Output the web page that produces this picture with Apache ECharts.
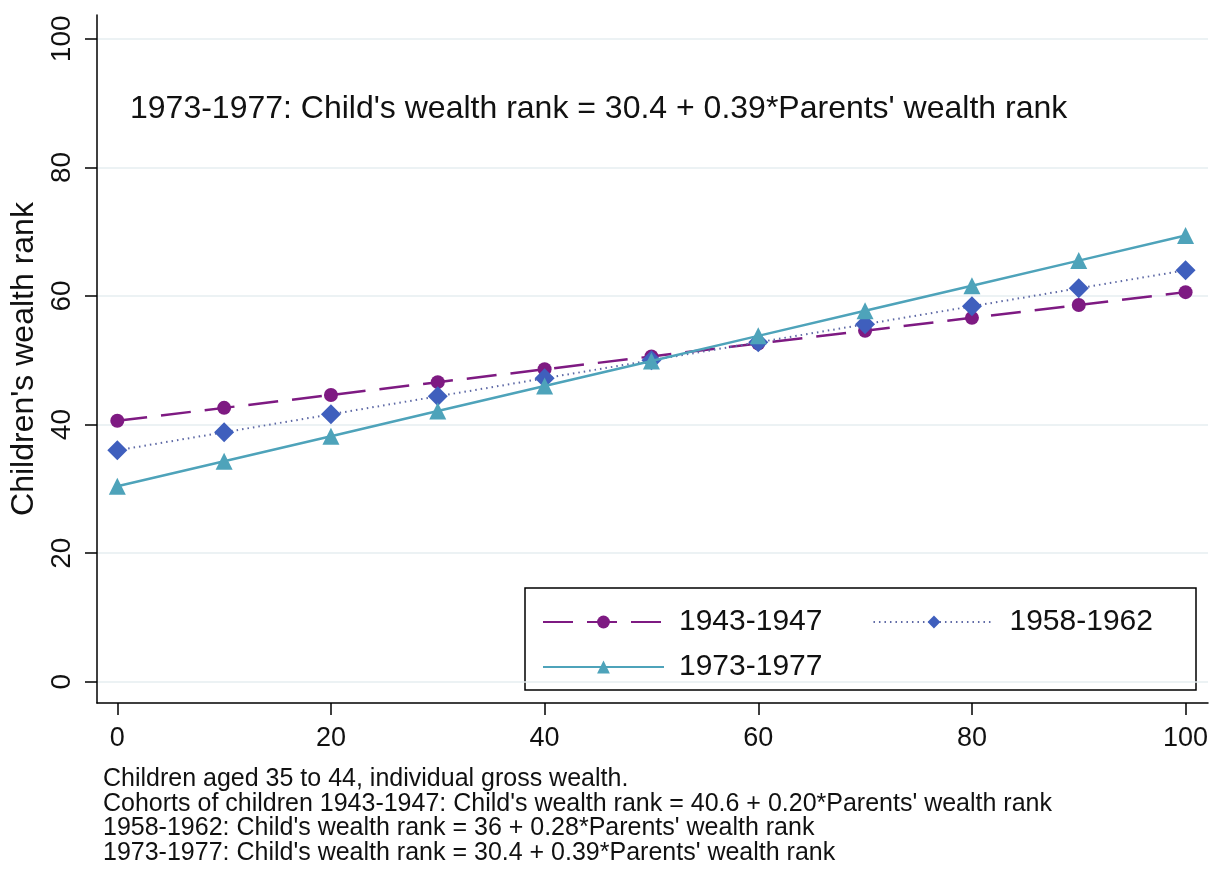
<!DOCTYPE html>
<html lang="en">
<head>
    <meta charset="UTF-8" />
    <title>Children's wealth rank by parents' wealth rank</title>
    <script src="https://cdn.jsdelivr.net/npm/echarts@6/dist/echarts.min.js"></script>
    <style>
        html, body { margin: 0; padding: 0; background: #fff; }
        #main { width: 1216px; height: 869px; }
    </style>
</head>
<body>
<div id="main"></div>
<script>
    // parents' wealth rank (x)
    var parentRank = [0, 10, 20, 30, 40, 50, 60, 70, 80, 90, 100];
    // children's wealth rank per cohort
    var cohort1943 = [40.6, 42.6, 44.6, 46.6, 48.6, 50.6, 52.6, 54.6, 56.6, 58.6, 60.6];
    var cohort1958 = [36.0, 38.8, 41.6, 44.4, 47.2, 50.0, 52.8, 55.6, 58.4, 61.2, 64.0];
    var cohort1973 = [30.4, 34.3, 38.2, 42.1, 46.0, 49.9, 53.8, 57.7, 61.6, 65.5, 69.4];
    var tickValues = [0, 20, 40, 60, 80, 100];
    var cohortNames = ['1943-1947', '1958-1962', '1973-1977'];

    var notes = [
        'Children aged 35 to 44, individual gross wealth.',
        "Cohorts of children 1943-1947: Child's wealth rank = 40.6 + 0.20*Parents' wealth rank",
        "1958-1962: Child's wealth rank = 36 + 0.28*Parents' wealth rank",
        "1973-1977: Child's wealth rank = 30.4 + 0.39*Parents' wealth rank"
    ];
    var annotation = "1973-1977: Child's wealth rank = 30.4 + 0.39*Parents' wealth rank";

    var font = '"Liberation Sans", Arial, sans-serif';

    function pairs(ys) {
        return parentRank.map(function (x, i) { return [x, ys[i]]; });
    }

    var chart = echarts.init(document.getElementById('main'));
    var option = {
        backgroundColor: '#ffffff',
        animation: false,
        textStyle: { fontFamily: font },
        title: {
            text: annotation,
            left: 125,
            top: 88,
            textStyle: { fontFamily: font, fontSize: 32, fontWeight: 'normal', color: '#111' }
        },
        grid: { left: 97, top: 15, right: 8, bottom: 166, outerBoundsMode: 'none' },
        xAxis: {
            type: 'value',
            min: -1.9,
            max: 102.1,
            axisLine: { show: true, onZero: false, lineStyle: { color: '#000', width: 1.5 } },
            axisTick: { show: true, length: 12, customValues: tickValues, lineStyle: { color: '#000', width: 1.5 } },
            axisLabel: { customValues: tickValues, margin: 22, fontSize: 27, color: '#111', fontFamily: font },
            splitLine: { show: false }
        },
        yAxis: {
            type: 'value',
            min: -3.3,
            max: 103.7,
            name: "Children's wealth rank",
            nameLocation: 'middle',
            nameRotate: 90,
            nameGap: 56,
            nameTextStyle: { fontSize: 32, color: '#111', fontFamily: font },
            axisLine: { show: true, onZero: false, lineStyle: { color: '#000', width: 1.5 } },
            axisTick: { show: true, length: 12, customValues: tickValues, lineStyle: { color: '#000', width: 1.5 } },
            axisLabel: { customValues: tickValues, rotate: 90, margin: 21, fontSize: 28, color: '#111', fontFamily: font },
            splitLine: { show: true, lineStyle: { color: '#e6eef1', width: 1.5 } }
        },
        legend: [
            {
                data: [cohortNames[0], cohortNames[1]],
                left: 537,
                top: 602,
                itemWidth: 121,
                itemHeight: 16,
                itemGap: 50,
                textStyle: { fontSize: 30, color: '#111', fontFamily: font, padding: [0, 0, 0, 10] }
            },
            {
                data: [cohortNames[2]],
                left: 537,
                top: 647,
                itemWidth: 121,
                itemHeight: 16,
                textStyle: { fontSize: 30, color: '#111', fontFamily: font, padding: [0, 0, 0, 10] }
            }
        ],
        graphic: [
            {
                type: 'rect',
                z: -1,
                shape: { x: 525, y: 588, width: 671, height: 102 },
                style: { fill: '#ffffff', stroke: '#000', lineWidth: 1.5 }
            },
            {
                type: 'text',
                left: 103,
                top: 767,
                style: {
                    text: notes.join('\n'),
                    font: '25px ' + font,
                    lineHeight: 24.5,
                    fill: '#111'
                }
            }
        ],
        series: [
            {
                name: cohortNames[0],
                type: 'line',
                data: pairs(cohort1943),
                symbol: 'circle',
                symbolSize: 14,
                itemStyle: { color: '#7e1a82' },
                lineStyle: { color: '#7e1a82', width: 2.5, type: [30, 14] },
                z: 3
            },
            {
                name: cohortNames[1],
                type: 'line',
                data: pairs(cohort1958),
                symbol: 'diamond',
                symbolSize: 20,
                itemStyle: { color: '#3f5fbd' },
                lineStyle: { color: '#5d68a5', width: 2, type: [1.5, 4] },
                z: 4
            },
            {
                name: cohortNames[2],
                type: 'line',
                data: pairs(cohort1973),
                symbol: 'triangle',
                symbolSize: 17,
                itemStyle: { color: '#4ea3ba' },
                lineStyle: { color: '#4ea3ba', width: 2.5, type: 'solid' },
                z: 5
            }
        ]
    };
    chart.setOption(option);
</script>
</body>
</html>
